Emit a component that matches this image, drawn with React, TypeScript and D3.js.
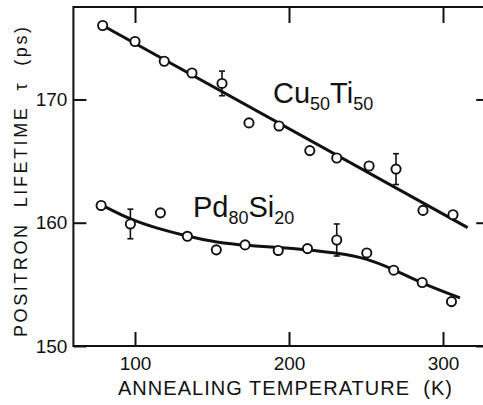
import React, { useEffect, useRef } from 'react'
import * as d3 from 'd3'

const W = 483
const H = 405

// Cu50Ti50 measurements (K, ps)
const cuTemp = [79, 100, 119, 137, 156.5, 174, 193.5, 213.5, 231, 252, 269.5, 287, 306.5]
const cuLife = [176.0, 174.7, 173.1, 172.15, 171.3, 168.1, 167.85, 165.85, 165.25, 164.6, 164.35, 161.0, 160.65]
const cuErr = [0, 0, 0, 0, 1.0, 0, 0, 0, 0, 0, 1.25, 0, 0]
// straight fit
const cuFitTemp = [79, 316]
const cuFitLife = [176.0, 159.6]

// Pd80Si20 measurements
const pdTemp = [78, 97, 116.5, 134, 152.8, 171.5, 193, 212, 231, 250.5, 268, 286.5, 305.5]
const pdLife = [161.4, 159.9, 160.8, 158.9, 157.8, 158.2, 157.75, 157.9, 158.6, 157.55, 156.15, 155.15, 153.6]
const pdErr = [0, 1.2, 0, 0, 0, 0, 0, 0, 1.3, 0, 0, 0, 0]
// smooth guide curve
const pdFitTemp = [79, 97, 114, 134, 153, 173, 194, 212, 231, 251, 268, 286, 311]
const pdFitLife = [161.4, 160.25, 159.55, 158.9, 158.4, 158.15, 158.0, 157.8, 157.55, 157.1, 156.2, 155.1, 153.9]

const xTicks = [100, 200, 300]
const yTicks = [150, 160, 170]

const font = '"Liberation Sans", Arial, sans-serif'

export default function App() {
	const svgRef = useRef<SVGSVGElement>(null)

	useEffect(() => {
		const svg = d3.select(svgRef.current)
		svg.selectAll('*').remove()

		const x = d3.scaleLinear().domain([60, 330]).range([73.4, 489.2])
		const y = d3.scaleLinear().domain([150, 177.5]).range([346, 7])
		const [x0, x1] = x.range()
		const [y0, y1] = y.range()

		// frame
		svg.append('rect')
			.attr('x', x0).attr('y', y1)
			.attr('width', x1 - x0).attr('height', y0 - y1)
			.attr('fill', 'none').attr('stroke', '#111').attr('stroke-width', 2)

		const styleAxis = (g) => {
			g.select('.domain').remove()
			g.selectAll('line').attr('stroke', '#111').attr('stroke-width', 2)
			g.selectAll('text').attr('fill', '#111').attr('font-size', 19).attr('font-family', font)
		}

		svg.append('g').attr('transform', `translate(${x0},0)`)
			.call(d3.axisLeft(y).tickValues(yTicks).tickSize(-13).tickPadding(6).tickSizeOuter(0))
			.call(styleAxis)
		svg.append('g').attr('transform', `translate(${x1},0)`)
			.call(d3.axisRight(y).tickValues(yTicks).tickSize(-13).tickFormat(() => '').tickSizeOuter(0))
			.call(styleAxis)
		svg.append('g').attr('transform', `translate(0,${y0})`)
			.call(d3.axisBottom(x).tickValues(xTicks).tickSize(-14).tickPadding(11).tickSizeOuter(0))
			.call(styleAxis)
		svg.append('g').attr('transform', `translate(0,${y1})`)
			.call(d3.axisTop(x).tickValues(xTicks).tickSize(-16).tickFormat(() => '').tickSizeOuter(0))
			.call(styleAxis)

		// axis titles
		svg.append('text')
			.attr('x', 285).attr('y', 395)
			.attr('text-anchor', 'middle')
			.attr('font-family', font).attr('font-size', 20).attr('fill', '#111')
			.attr('textLength', 334).attr('lengthAdjust', 'spacing')
			.attr('xml:space', 'preserve')
			.text('ANNEALING TEMPERATURE  (K)')
		svg.append('text')
			.attr('transform', 'translate(27,182) rotate(-90)')
			.attr('text-anchor', 'middle')
			.attr('font-family', font).attr('font-size', 18).attr('fill', '#111')
			.attr('textLength', 310).attr('lengthAdjust', 'spacing')
			.attr('xml:space', 'preserve')
			.text('POSITRON  LIFETIME  τ  (ps)')

		const line = d3.line<[number, number]>()
			.x((d) => x(d[0]))
			.y((d) => y(d[1]))

		svg.append('path')
			.attr('d', line(d3.zip(cuFitTemp, cuFitLife) as [number, number][]))
			.attr('fill', 'none').attr('stroke', '#111').attr('stroke-width', 3)
		svg.append('path')
			.attr('d', line.curve(d3.curveBasis)(d3.zip(pdFitTemp, pdFitLife) as [number, number][]))
			.attr('fill', 'none').attr('stroke', '#111').attr('stroke-width', 3)

		function drawSeries(temps, lifes, errs) {
			const g = svg.append('g')
			temps.forEach((t, i) => {
				if (errs[i] > 0) {
					const cx = x(t)
					const top = y(lifes[i] + errs[i])
					const bot = y(lifes[i] - errs[i])
					g.append('line').attr('x1', cx).attr('x2', cx).attr('y1', top).attr('y2', bot)
						.attr('stroke', '#111').attr('stroke-width', 1.6)
					;[top, bot].forEach((yy) => {
						g.append('line').attr('x1', cx - 3).attr('x2', cx + 3).attr('y1', yy).attr('y2', yy)
							.attr('stroke', '#111').attr('stroke-width', 1.6)
					})
				}
			})
			g.selectAll('circle.pt').data(temps).enter().append('circle')
				.attr('class', 'pt')
				.attr('cx', (d) => x(d))
				.attr('cy', (d, i) => y(lifes[i]))
				.attr('r', 4.6)
				.attr('fill', 'white').attr('stroke', '#111').attr('stroke-width', 1.9)
		}
		drawSeries(cuTemp, cuLife, cuErr)
		drawSeries(pdTemp, pdLife, pdErr)

		// series labels with subscripts
		function label(px, py, parts) {
			const t = svg.append('text').attr('x', px).attr('y', py)
				.attr('font-family', font).attr('fill', '#111')
			parts.forEach(([s, sub]) => {
				t.append('tspan').attr('font-size', 29).attr('dy', sub ? -7 : 0).text(s)
				t.append('tspan').attr('font-size', 18).attr('dy', 7).text(sub)
			})
			// reset baseline shift of first tspan
			t.select('tspan').attr('dy', 0)
		}
		label(273, 103, [['Cu', '50'], ['Ti', '50']])
		label(193, 217, [['Pd', '80'], ['Si', '20']])
	}, [])

	return (
		<svg ref={svgRef} width={W} height={H}
			style={{ position: 'absolute', left: 0, top: 0, background: 'white' }} />
	)
}
